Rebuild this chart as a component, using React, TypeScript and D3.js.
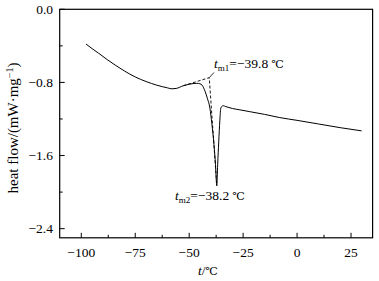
import React from "react";
import * as d3 from "d3";

const temperature = [
  -97.8, -95, -92, -88, -84, -80, -75, -70, -65, -60, -58, -56, -52.7, -50, -46.5,
  -45, -44, -42.6, -41.5, -40.4, -39.5, -38.5, -37.8, -37.2, -36.8, -36.3, -35.8,
  -35.4, -35.0, -34.2, -33, -30, -26.5, -21.9, -15, -8, 0, 10, 20, 29.9,
];
const heatFlow = [
  -0.38, -0.43, -0.48, -0.55, -0.615, -0.675, -0.74, -0.79, -0.83, -0.86, -0.87, -0.866, -0.836, -0.82, -0.81,
  -0.815, -0.83, -0.9, -0.98, -1.08, -1.25, -1.48, -1.7, -1.93, -1.7, -1.45, -1.22,
  -1.09, -1.065, -1.055, -1.065, -1.085, -1.1, -1.12, -1.15, -1.185, -1.215, -1.255, -1.295, -1.33,
];

// extrapolated baseline + onset construction (dashed)
const dashT = [-52.7, -40.7, -37.2];
const dashV = [-0.836, -0.748, -1.93];
// leader to the t_m1 label
const leaderT = [-40.7, -38.5];
const leaderV = [-0.748, -0.691];

const xMajor = [-100, -75, -50, -25, 0, 25];
const xMinor = [-87.5, -62.5, -37.5, -12.5, 12.5];
const yMajor = [0, -0.8, -1.6, -2.4];
const yMinor = [-0.4, -1.2, -2.0];

const label1 = { sub: "m1", text: "=\u221239.8 " };
const label2 = { sub: "m2", text: "=\u221238.2 " };
const degC = "\u2103";

const fmtX = (v: number) => (v < 0 ? "\u2212" + Math.abs(v) : String(v));
const fmtY = (v: number) => (v < 0 ? "\u2212" + Math.abs(v).toFixed(1) : v.toFixed(1));

export default function App() {
  const W = 379, H = 281;
  const x = d3.scaleLinear().domain([-110, 35]).range([59.7, 372.6]);
  const y = d3.scaleLinear().domain([-2.5, 0]).range([237.8, 9.3]);
  const [x0, x1] = x.range();
  const [y0, y1] = y.range();

  const pts = temperature.map((t, i) => [t, heatFlow[i]] as [number, number]);
  const line = d3
    .line<[number, number]>()
    .x((d) => x(d[0]))
    .y((d) => y(d[1]))
    .curve(d3.curveMonotoneX);
  const straight = d3
    .line<[number, number]>()
    .x((d) => x(d[0]))
    .y((d) => y(d[1]));

  const dash = dashT.map((t, i) => [t, dashV[i]] as [number, number]);
  const leader = leaderT.map((t, i) => [t, leaderV[i]] as [number, number]);

  const fs = 13.5;
  const degFont = "DejaVu Serif";

  return (
    <svg
      width={W}
      height={H}
      style={{ position: "absolute", left: 0, top: 0, background: "#fff", fontFamily: '"Times New Roman", Times, Tinos, "Liberation Serif", serif' }}
    >
      <rect x={0} y={0} width={W} height={H} fill="#fff" />
      {/* ticks */}
      {xMajor.map((v) => (
        <line key={"xm" + v} x1={x(v)} x2={x(v)} y1={y0} y2={y0 - 5} stroke="#000" strokeWidth={1} />
      ))}
      {xMinor.map((v) => (
        <line key={"xn" + v} x1={x(v)} x2={x(v)} y1={y0} y2={y0 - 3} stroke="#000" strokeWidth={1} />
      ))}
      {yMajor.map((v) => (
        <line key={"ym" + v} x1={x0} x2={x0 + 5} y1={y(v)} y2={y(v)} stroke="#000" strokeWidth={1} />
      ))}
      {yMinor.map((v) => (
        <line key={"yn" + v} x1={x0} x2={x0 + 3} y1={y(v)} y2={y(v)} stroke="#000" strokeWidth={1} />
      ))}
      {/* frame */}
      <rect x={x0} y={y1} width={x1 - x0} height={y0 - y1} fill="none" stroke="#000" strokeWidth={1.2} />
      {/* tick labels */}
      {xMajor.map((v) => (
        <text key={"xl" + v} x={x(v)} y={256.5} fontSize={fs} textAnchor="middle" fill="#000">
          {fmtX(v)}
        </text>
      ))}
      {yMajor.map((v) => (
        <text key={"yl" + v} x={53} y={y(v) + 4.5} fontSize={fs} textAnchor="end" fill="#000">
          {fmtY(v)}
        </text>
      ))}
      {/* axis titles */}
      <text x={208} y={275} fontSize={fs} textAnchor="middle" fill="#000">
        <tspan fontStyle="italic">t</tspan>/<tspan fontFamily={degFont} fontSize={11}>{degC}</tspan>
      </text>
      <text transform={`translate(17.5,128) rotate(-90)`} fontSize={15} textAnchor="middle" fill="#000">
        heat flow/(mW·mg<tspan fontSize={10} dy={-5}>{"\u22121"}</tspan>
        <tspan dy={5}>)</tspan>
      </text>
      {/* data */}
      <path d={straight(dash) || ""} fill="none" stroke="#000" strokeWidth={0.9} strokeDasharray="3,2" />
      <path d={straight(leader) || ""} fill="none" stroke="#000" strokeWidth={0.8} />
      <path d={line(pts) || ""} fill="none" stroke="#000" strokeWidth={1} />
      {/* annotations */}
      <text x={214} y={67.5} fontSize={fs} fill="#000">
        <tspan fontStyle="italic">t</tspan>
        <tspan fontSize={9} dy={3}>{label1.sub}</tspan>
        <tspan dy={-3}>{label1.text}</tspan>
        <tspan fontFamily={degFont} fontSize={11}>{degC}</tspan>
      </text>
      <text x={175} y={200} fontSize={fs} fill="#000">
        <tspan fontStyle="italic">t</tspan>
        <tspan fontSize={9} dy={3}>{label2.sub}</tspan>
        <tspan dy={-3}>{label2.text}</tspan>
        <tspan fontFamily={degFont} fontSize={11}>{degC}</tspan>
      </text>
    </svg>
  );
}
